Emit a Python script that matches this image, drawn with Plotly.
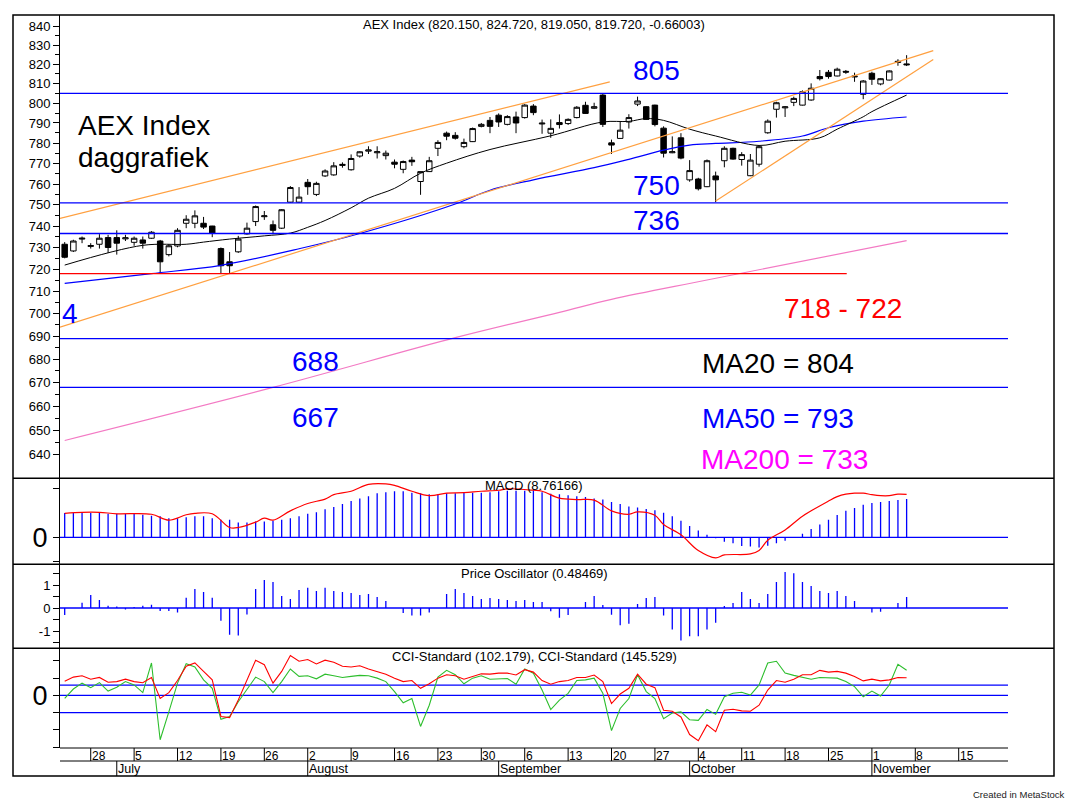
import pandas as pd
import plotly.graph_objects as go

FONT = "Liberation Sans, Arial, sans-serif"
BLUE = "#0000FF"
RED = "#FF0000"
ORANGE = "#FFA040"
PINK = "#F37AC4"
GREEN = "#2DBE2D"

# trading days on the time axis, index 0 = Wed 23 June 2021
days = pd.bdate_range("2021-06-23", "2021-11-26")

# AEX daily candles, one value per trading day
opens = [731.5, 728.4, 733.9, 730.5, 731.5, 734.6, 734.6, 734.0, 732.4, 733.5,
         734.3, 733.0, 726.7, 730.7, 741.3, 741.3, 741.3, 740.0, 729.5, 723.4,
         728.0, 736.3, 742.1, 744.4, 740.6, 739.0, 751.3, 751.3, 760.8, 755.0,
         763.9, 764.4, 769.0, 766.9, 773.6, 776.0, 775.2, 773.8, 770.6, 767.1,
         771.6, 761.2, 766.0, 777.4, 784.9, 783.8, 778.2, 780.7, 788.3, 791.3,
         793.9, 789.3, 793.0, 792.7, 798.5, 789.5, 784.9, 790.2, 789.7, 792.7,
         798.9, 797.4, 804.1, 780.1, 782.3, 790.5, 799.5, 798.2, 799.0, 787.4,
         775.2, 782.6, 762.0, 762.4, 758.7, 763.9, 771.3, 777.4, 771.9, 764.0,
         769.6, 785.1, 796.9, 797.6, 800.4, 799.0, 801.6, 813.6, 815.8, 813.9,
         816.3, 813.4, 804.5, 815.3, 809.8, 811.8, 820.9, 820.15]
highs = [732.5, 733.6, 735.1, 732.0, 736.2, 735.9, 738.0, 735.9, 735.1, 735.1,
         737.6, 733.5, 731.5, 739.0, 745.1, 747.4, 744.3, 740.1, 730.0, 727.9,
         735.4, 741.6, 749.7, 747.1, 742.6, 748.0, 759.0, 758.5, 762.4, 761.1,
         767.1, 770.6, 770.5, 774.4, 776.0, 778.4, 778.4, 776.3, 771.9, 771.4,
         773.2, 766.0, 773.2, 781.4, 785.7, 785.4, 782.2, 787.7, 790.0, 793.0,
         794.8, 793.9, 795.7, 799.5, 799.5, 791.7, 791.8, 794.3, 792.3, 798.5,
         800.7, 800.2, 804.6, 781.7, 790.5, 794.4, 803.3, 798.5, 799.2, 788.3,
         783.3, 784.9, 771.6, 763.0, 771.9, 766.0, 778.4, 777.7, 775.5, 774.6,
         778.9, 791.8, 800.7, 798.5, 803.3, 806.5, 810.1, 817.0, 817.0, 818.2,
         817.0, 815.6, 811.8, 816.1, 812.8, 816.8, 822.6, 824.72]
lows = [725.0, 727.9, 732.0, 729.5, 729.5, 727.5, 726.7, 733.0, 730.8, 729.5,
        734.0, 718.2, 725.9, 730.1, 739.0, 739.0, 738.6, 734.8, 717.8, 717.8,
        727.5, 736.0, 740.0, 742.9, 736.2, 738.6, 751.0, 751.0, 754.8, 754.2,
        763.4, 764.0, 767.9, 766.5, 772.8, 774.6, 772.4, 771.9, 767.6, 765.2,
        768.8, 754.8, 765.8, 773.6, 781.4, 781.7, 777.4, 780.5, 787.8, 784.9,
        788.0, 788.8, 784.9, 792.2, 793.9, 784.6, 782.6, 787.2, 789.0, 792.3,
        794.6, 797.0, 788.0, 774.6, 782.2, 787.2, 798.5, 791.6, 788.3, 772.9,
        775.0, 772.0, 761.1, 756.9, 758.5, 751.3, 768.1, 771.8, 768.9, 763.8,
        768.4, 784.6, 792.7, 793.0, 798.5, 798.8, 801.2, 811.6, 812.5, 813.7,
        815.0, 810.9, 802.0, 809.3, 809.1, 811.6, 819.2, 819.05]
closes = [725.5, 733.0, 734.3, 730.9, 734.3, 730.0, 732.0, 734.5, 734.3, 732.0,
          737.1, 723.4, 730.8, 738.0, 743.2, 744.8, 739.5, 736.6, 721.6, 721.6,
          733.9, 739.0, 749.2, 744.8, 738.0, 747.7, 758.3, 753.7, 758.7, 760.3,
          766.3, 768.8, 769.5, 772.4, 775.7, 776.6, 775.7, 775.0, 769.6, 770.9,
          770.8, 766.0, 771.3, 780.3, 783.4, 782.4, 780.3, 787.2, 789.3, 788.3,
          790.5, 793.2, 790.0, 799.0, 795.2, 789.9, 787.3, 789.2, 791.8, 797.9,
          794.8, 798.2, 789.3, 779.0, 786.4, 792.7, 801.1, 791.8, 789.2, 775.0,
          775.7, 772.6, 766.5, 757.7, 771.3, 762.0, 777.4, 772.1, 774.3, 771.6,
          778.2, 790.9, 800.2, 798.1, 802.4, 805.8, 807.6, 812.5, 813.6, 817.4,
          815.9, 813.8, 811.3, 812.2, 812.5, 816.5, 821.5, 819.72]

# moving averages (day index, value)
ma20_idx = [0, 9, 14, 16, 19, 23, 26, 28, 30, 33, 35, 38, 41, 44, 49, 56, 62, 65,
            67, 69, 72, 75, 80, 83, 87, 89, 92, 93, 97]
ma20 = [721.9, 731.0, 731.5, 732.5, 733.9, 735.4, 736.7, 739.4, 742.6, 748.6,
        753.2, 757.9, 765.2, 770.1, 776.8, 783.6, 790.5, 790.8, 792.2, 791.3,
        786.9, 783.5, 778.8, 780.9, 782.6, 786.9, 793.1, 795.7, 804.1]
ma50_idx = [0, 10, 18, 27, 34, 45, 49, 54, 61, 65, 69, 72, 75, 80, 85, 88, 92, 97]
ma50 = [713.6, 718.0, 721.8, 729.4, 736.5, 750.4, 757.0, 762.0, 767.9, 772.0,
        776.5, 779.0, 779.8, 780.9, 783.5, 787.6, 790.9, 793.0]
ma200_idx = [0, 24, 45, 57, 63, 74, 97]
ma200 = [645.9, 668.0, 689.4, 700.6, 706.4, 715.1, 733.2]

# support / resistance
blue_levels = [805, 751, 736.5, 689, 668]
red_level = 718
red_level_end = 90.1
trend_x = [[-0.54, 62.8], [-0.54, 100.07], [75.0, 100.07]]
trend_y = [[743.6, 810.9], [694.0, 827.1], [751.8, 822.5]]

# MACD panel
macd_hist = [4.97, 4.97, 4.97, 4.97, 4.97, 4.83, 4.83, 4.76, 4.76, 4.6,
             4.4, 4.3, 3.9, 3.9, 4.1, 4.3, 4.3, 3.9, 3.6, 3.6,
             3.0, 3.0, 3.2, 3.2, 3.4, 3.6, 3.9, 4.3, 4.8, 5.1,
             5.7, 6.2, 6.8, 7.4, 7.9, 8.4, 9.0, 9.2, 9.4, 9.4,
             9.1, 9.0, 8.8, 8.8, 9.0, 9.0, 9.1, 9.1, 9.1, 9.2,
             9.4, 9.5, 9.5, 9.5, 9.6, 9.2, 8.9, 8.8, 8.6, 8.4,
             8.2, 7.9, 7.7, 7.2, 6.8, 6.3, 6.1, 5.8, 5.5, 5.0,
             4.3, 3.4, 2.3, 1.4, 0.5, -0.2, -0.9, -1.2, -1.8, -1.9,
             -2.1, -1.7, -1.2, -0.7, 0.0, 0.7, 1.7, 2.6, 3.6, 4.55,
             5.4, 6.0, 6.65, 7.0, 7.2, 7.4, 7.6, 7.8]
macd_idx = [0, 2, 4, 6, 10, 12, 14, 15, 17, 19, 20, 22, 23, 24, 26, 28, 30, 31,
            33, 35, 37, 38, 40, 42, 44, 46, 48, 50, 51, 54, 55, 57, 59, 61, 63,
            65, 66, 68, 69, 71, 73, 75, 76, 79, 80, 81, 83, 85, 88, 89, 90, 91,
            92, 93, 94, 95, 96, 97]
macd_line = [4.9, 5.1, 5.1, 4.8, 4.7, 3.5, 4.6, 4.9, 4.8, 2.0, 2.0, 3.1, 3.9, 3.5,
             5.4, 6.9, 7.8, 8.7, 9.4, 10.8, 10.9, 10.6, 9.4, 8.5, 9.0, 9.1, 9.4,
             9.6, 9.9, 9.6, 9.4, 8.0, 7.7, 7.6, 5.4, 4.7, 5.2, 4.5, 2.6, 0.5,
             -2.7, -4.2, -3.6, -3.4, -2.7, -0.6, 1.5, 4.3, 7.4, 8.3, 8.8, 9.0,
             9.0, 8.7, 8.5, 8.5, 8.8, 8.76]

# Price Oscillator panel
price_osc = [-0.30, 0.0, 0.23, 0.57, 0.35, 0.10, 0.06, -0.06, 0.04, 0.10,
             0.14, -0.13, -0.13, -0.20, 0.45, 0.83, 0.70, 0.45, -0.55, -1.16,
             -1.20, -0.28, 0.83, 1.22, 1.13, 0.52, 0.39, 0.78, 0.88, 0.74,
             0.88, 0.74, 0.70, 0.65, 0.57, 0.61, 0.48, 0.30, 0.0, -0.22,
             -0.33, -0.33, -0.20, 0.0, 0.61, 0.83, 0.65, 0.52, 0.39, 0.43,
             0.39, 0.35, 0.30, 0.35, 0.26, 0.26, -0.14, -0.42, -0.30, 0.0,
             0.26, 0.52, 0.13, -0.29, -0.75, -0.68, 0.17, 0.43, 0.48, -0.33,
             -0.94, -1.41, -1.23, -1.23, -0.94, -0.64, 0.09, 0.22, 0.70, 0.39,
             0.22, 0.61, 1.13, 1.57, 1.51, 1.13, 0.96, 0.74, 0.65, 0.74,
             0.52, 0.30, 0.0, -0.20, -0.16, 0.0, 0.22, 0.48]

# CCI panel
cci_red = [82, 106, 114, 94, 104, 76, 80, 94, 80, 73,
           104, -18, 16, 86, 169, 188, 139, 90, -122, -129,
           -27, 94, 204, 178, 71, 139, 231, 198, 208, 182,
           204, 192, 169, 165, 172, 153, 139, 123, 100, 80,
           86, 41, 67, 100, 120, 114, 94, 110, 125, 123,
           129, 129, 118, 149, 135, 86, 65, 80, 86, 104,
           104, 118, 80, -47, 8, 41, 123, 65, 45, -86,
           -92, -125, -227, -263, -171, -210, -86, -80, -90, -92,
           -57, 31, 86, 76, 94, 120, 120, 145, 135, 139,
           129, 110, 84, 94, 84, 90, 104, 102.2]
cci_green = [-18, 37, 71, 45, 74, 25, 47, 80, 61, 16,
             188, -257, -96, 71, 184, 165, 90, 41, -139, -122,
             -37, 31, 106, 80, 16, 80, 153, 110, 114, 96,
             123, 114, 104, 110, 116, 114, 100, 80, 22, -43,
             -18, -180, -57, 106, 145, 120, 67, 100, 114, 94,
             94, 98, 65, 153, 129, 31, -82, -27, 12, 86,
             90, 100, 12, -204, -76, -18, 120, 22, -18, -135,
             -102, -96, -141, -145, -82, -110, -8, 12, 18, 2,
             61, 188, 198, 129, 116, 104, 94, 104, 104, 100,
             80, 51, -8, 25, -4, 60, 180, 145.5]
cci_levels = [60, 0, -100]

main_ticks = list(range(640, 850, 10))

X_LO, X_HI = -0.54, 108.68
idx = list(range(len(closes)))


def px(v):
    return (v - 60) / 1000


def py(v):
    return (748 - v) / 733


def line(fig, xs, ys, color, yaxis, width=1, shape="linear"):
    fig.add_trace(go.Scatter(x=xs, y=ys, mode="lines", yaxis=yaxis,
                             line=dict(color=color, width=width, shape=shape),
                             hoverinfo="skip", showlegend=False))


def sticks(fig, values, yaxis):
    xs, ys = [], []
    for i, v in enumerate(values):
        xs += [i, i, None]
        ys += [0, v, None]
    line(fig, xs, ys, BLUE, yaxis, width=1.3)


fig = go.Figure()

# main panel
line(fig, ma200_idx, ma200, PINK, "y", 1.2, "spline")
line(fig, ma50_idx, ma50, BLUE, "y", 1.2, "spline")
line(fig, ma20_idx, ma20, "black", "y", 1, "spline")
for tx, ty in zip(trend_x, trend_y):
    line(fig, tx, ty, ORANGE, "y", 1.2)
fig.add_trace(go.Candlestick(
    x=idx, open=opens, high=highs, low=lows, close=closes, yaxis="y",
    increasing=dict(line=dict(color="black", width=1), fillcolor="white"),
    decreasing=dict(line=dict(color="black", width=1), fillcolor="black"),
    whiskerwidth=0, showlegend=False, hoverinfo="none"))
for lv in blue_levels:
    line(fig, [X_LO, X_HI], [lv, lv], BLUE, "y", 1.3)
line(fig, [X_LO, red_level_end], [red_level, red_level], RED, "y", 1.3)

# MACD
line(fig, [X_LO, X_HI], [0, 0], BLUE, "y2", 1.3)
sticks(fig, macd_hist, "y2")
line(fig, macd_idx, macd_line, RED, "y2", 1.2, "spline")

# Price Oscillator
line(fig, [X_LO, X_HI], [0, 0], BLUE, "y3", 1.3)
sticks(fig, price_osc, "y3")

# CCI
for lv in cci_levels:
    line(fig, [X_LO, X_HI], [lv, lv], BLUE, "y4", 1.3)
line(fig, idx, cci_green, GREEN, "y4", 1.1)
line(fig, idx, cci_red, RED, "y4", 1.1)

tickfont = dict(family=FONT, size=13, color="black")


def axis(domain, rng, **kw):
    d = dict(domain=domain, range=rng, anchor="x", showgrid=False, zeroline=False,
             showline=True, linecolor="black", linewidth=1, ticks="outside",
             ticklen=6, tickcolor="black", tickfont=tickfont, tickmode="array")
    d.update(kw)
    return d


def right_ticks(over, rng, vals, minor_vals, **kw):
    d = axis(None, rng, overlaying=over, side="right", tickvals=vals,
             showticklabels=False,
             minor=dict(tickvals=minor_vals, ticks="outside", ticklen=4,
                        tickcolor="black", showgrid=False))
    d.pop("domain")
    d.update(kw)
    return d


def right_labels(over, rng, vals, text, **kw):
    d = dict(overlaying=over, side="left", anchor="free", position=0.995,
             range=rng, showline=False, ticks="", showgrid=False, zeroline=False,
             tickmode="array", tickvals=vals, ticktext=text, tickfont=tickfont)
    d.update(kw)
    return d


R_MAIN = [2.79974, 2.92737]
R_MACD = [-5.51, 12.04]
R_PO = [-1.752, 1.90]
R_CCI = [-305, 273]

D_MAIN = [py(478.3), 1]
D_MACD = [py(564.3), py(478.3)]
D_PO = [py(648.3), py(564.3)]
D_CCI = [0, py(648.3)]

minor_main = [v + 5 for v in main_ticks[:-1]]
big0 = dict(family=FONT, size=27, color="black")

fig.update_layout(
    width=1070, height=805,
    margin=dict(l=60, r=10, t=15, b=57),
    paper_bgcolor="white", plot_bgcolor="white",
    showlegend=False, boxgap=0.1, hovermode=False,
    font=dict(family=FONT, color="black"),
    xaxis=dict(domain=[0, 0.948], range=[X_LO, X_HI], anchor="y4", type="linear",
               showticklabels=False, ticks="", showgrid=False, zeroline=False,
               showline=False, showspikes=False, rangeslider=dict(visible=False)),
    yaxis=axis(D_MAIN, R_MAIN, type="log", tickvals=main_ticks,
               minor=dict(tickvals=minor_main, ticks="outside", ticklen=4,
                          tickcolor="black", showgrid=False)),
    yaxis2=axis(D_MACD, R_MACD, tickvals=[-5, 0, 10], ticktext=["", "0", ""],
                tickfont=big0),
    yaxis3=axis(D_PO, R_PO, tickvals=[-1.5, -1, -0.5, 0, 0.5, 1, 1.5],
                ticktext=["", "-1", "", "0", "", "1", ""]),
    yaxis4=axis(D_CCI, R_CCI, tickvals=[-300, -200, -100, 0, 100, 200],
                ticktext=["", "", "", "0", "", ""], tickfont=big0),
    yaxis5=right_ticks("y", R_MAIN, main_ticks, minor_main, type="log"),
    yaxis6=right_ticks("y2", R_MACD, [-5, 0, 5, 10],
                       [-10 / 3, -5 / 3, 5 / 3, 10 / 3, 20 / 3, 25 / 3, 35 / 3]),
    yaxis7=right_ticks("y3", R_PO, [-1, 0, 1], [-1.5, -0.5, 0.5, 1.5]),
    yaxis8=right_ticks("y4", R_CCI, [-200, -100, 0, 100, 200],
                       [-300, -250, -150, -50, 50, 150, 250]),
    yaxis9=right_labels("y", R_MAIN, main_ticks, [str(v) for v in main_ticks],
                        type="log"),
    yaxis10=right_labels("y2", R_MACD, [0, 5, 10], ["0", "5", "10"]),
    yaxis11=right_labels("y3", R_PO, [-1, 0, 1], ["-1", "0", "1"]),
    yaxis12=right_labels("y4", R_CCI, [-200, -100, 0, 100, 200],
                         ["-200", "-100", "0", "100", "200"]),
)

# frame, panel dividers and the date rows
shapes = [dict(type="rect", xref="paper", yref="paper", x0=px(13), x1=px(1054),
               y0=py(776), y1=1, line=dict(color="black", width=1.5))]
for yy in [478.3, 564.3, 648.3]:
    shapes.append(dict(type="line", xref="paper", yref="paper", x0=px(13),
                       x1=px(1054), y0=py(yy), y1=py(yy),
                       line=dict(color="black", width=1.5)))
for yy in [748, 761]:
    shapes.append(dict(type="line", xref="paper", yref="paper", x0=0, x1=0.948,
                       y0=py(yy), y1=py(yy), line=dict(color="black", width=1)))

mondays = [i for i, d in enumerate(days) if d.weekday() == 0 and i <= 107]
month_starts = [i for i in range(1, len(days)) if days[i].month != days[i - 1].month]
for i in mondays:
    shapes.append(dict(type="line", xref="x", yref="paper", x0=i, x1=i,
                       y0=py(748), y1=py(761), line=dict(color="black", width=1)))
for i in month_starts:
    shapes.append(dict(type="line", xref="x", yref="paper", x0=i, x1=i,
                       y0=py(761), y1=py(776), line=dict(color="black", width=1)))
fig.update_layout(shapes=shapes)

ann = []
for i in mondays:
    ann.append(dict(x=i, y=py(755.5), xref="x", yref="paper", text=str(days[i].day),
                    xanchor="left", yanchor="middle", showarrow=False, xshift=-1,
                    font=dict(family=FONT, size=12, color="black")))
for i in month_starts:
    ann.append(dict(x=i, y=py(769), xref="x", yref="paper", text=days[i].strftime("%B"),
                    xanchor="left", yanchor="middle", showarrow=False, xshift=-1,
                    font=dict(family=FONT, size=12.5, color="black")))

titles = [
    ("AEX Index (820.150, 824.720, 819.050, 819.720, -0.66003)", 24),
    ("MACD (8.76166)", 486),
    ("Price Oscillator (0.48469)", 573),
    ("CCI-Standard (102.179), CCI-Standard (145.529)", 656.5),
]
for txt, yy in titles:
    ann.append(dict(x=0.474, y=py(yy), xref="paper", yref="paper", text=txt,
                    xanchor="center", yanchor="middle", showarrow=False,
                    font=dict(family=FONT, size=13, color="black")))

labels = [
    ("AEX Index", 76, 125, "black"),
    ("daggrafiek", 76, 157, "black"),
    ("805", 631, 70, BLUE),
    ("750", 631, 185, BLUE),
    ("736", 631, 220.7, BLUE),
    ("4", 60, 313, BLUE),
    ("688", 289.5, 362, BLUE),
    ("667", 289.5, 417.5, BLUE),
    ("718 - 722", 782, 308, RED),
    ("MA20 = 804", 699.5, 363, "black"),
    ("MA50 = 793", 699.5, 419, BLUE),
    ("MA200 = 733", 699, 459.5, "#FF00FF"),
]
for txt, xx, yy, col in labels:
    ann.append(dict(x=px(xx), y=py(yy), xref="paper", yref="paper", text=txt,
                    xanchor="left", yanchor="middle", showarrow=False,
                    font=dict(family=FONT, size=28, color=col)))

ann.append(dict(x=px(1067), y=py(794.3), xref="paper", yref="paper",
                text="Created in MetaStock", xanchor="right", yanchor="middle",
                showarrow=False, font=dict(family=FONT, size=9.5, color="#222222")))
fig.update_layout(annotations=ann)

# the page body has a default 8px margin; drop it so the chart sits at 0,0
fig.write_html("out.html", config={"displayModeBar": False},
               post_script="document.body.style.margin='0';"
                           "document.body.style.overflow='hidden';")
